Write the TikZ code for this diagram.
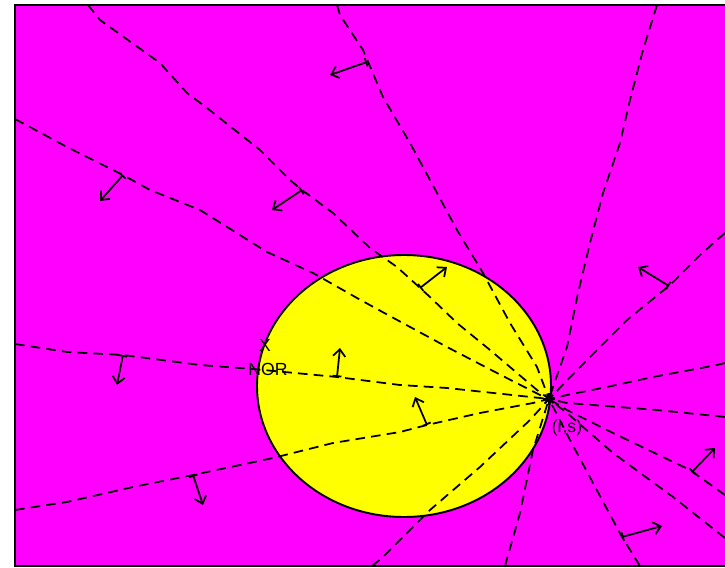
\documentclass[tikz,border=0pt]{standalone}
\usepackage{fontspec}
\setmainfont{Liberation Sans}
\usetikzlibrary{arrows.meta}
\definecolor{fieldmag}{RGB}{255,0,255}
\definecolor{diskyel}{RGB}{255,255,0}
\tikzset{
  ray/.style={line width=1pt,dash pattern=on 5.5pt off 3.5pt},
  normvec/.style={{Bar[width=5pt]}-{Straight Barb[length=4pt,width=7pt]},line width=1pt},
  lbl/.style={font=\fontsize{10}{12}\selectfont,inner sep=1pt},
}
\begin{document}
\begin{tikzpicture}[x=.02cm,y=-.02cm]
\useasboundingbox (0,0) rectangle (725,568);
\clip (0,0) rectangle (725,568);
\fill[fieldmag] (15,5) rectangle (730,566);
\filldraw[fill=diskyel,draw=black,line width=1.1pt] (404,386) ellipse (147 and 131);
\coordinate (rs) at (549,399);
% rays through (r,s)
\draw[ray] (88,5)--(100,20)--(160,63)--(187,93)--(207,108)--(260,150)--(290,180)--(302,190)--(333,213)--(370,248)--(397,267)--(430,297)--(457,323)--(490,350)--(537,390)--(rs);
\draw[ray] (15,119)--(67,147)--(123,175)--(150,190)--(200,210)--(267,252)--(313,273)--(357,298)--(388,315)--(447,347)--(497,373)--(540,395)--(rs);
\draw[ray] (337,5)--(340,15)--(363,50)--(383,97)--(410,143)--(430,180)--(457,230)--(483,273)--(510,323)--(537,367)--(rs);
\draw[ray] (657,5)--(643,50)--(630,100)--(620,143)--(603,193)--(590,243)--(578,293)--(567,347)--(553,387)--(rs);
\draw[ray] (725,233)--(700,255)--(670,285)--(627,320)--(587,360)--(rs);
\draw[ray] (725,363)--(717,365)--(653,377)--(607,387)--(567,395)--(rs);
\draw[ray] (725,417)--(657,410)--(567,403)--(rs);
\draw[ray] (725,495)--(690,470)--(613,433)--(567,410)--(rs);
\draw[ray] (725,538)--(673,497)--(613,453)--(567,413)--(rs);
\draw[ray] (640,566)--(622,537)--(593,483)--(570,440)--(rs);
\draw[ray] (505,566)--(520,513)--(533,450)--(rs);
\draw[ray] (372,566)--(383,557)--(430,510)--(480,467)--(530,420)--(rs);
\draw[ray] (15,510)--(67,502)--(133,487)--(193,475)--(273,458)--(333,443)--(400,432)--(427,425)--(480,413)--(533,403)--(rs);
\draw[ray] (15,344)--(67,352)--(123,355)--(200,365)--(253,369)--(337,377)--(400,385)--(447,388)--(540,398)--(rs);
% frame
\draw[line width=1.1pt] (730,5)--(15,5)--(15,566)--(730,566);
% normals
\draw[normvec] (302,190)--(272,210);
\draw[normvec] (420,288)--(447,267);
\draw[normvec] (123,175)--(100,201);
\draw[normvec] (367,62)--(330,75);
\draw[normvec] (669,286)--(638,267);
\draw[normvec] (692,472)--(715,448);
\draw[normvec] (622,537)--(662,526);
\draw[normvec] (193,475)--(203,505);
\draw[normvec] (427,425)--(415,397);
\draw[normvec] (123,355)--(117,385);
\draw[normvec] (337,377)--(340,348);
% point (r,s)
\foreach \a in {0,45,90,135}
  \draw[line width=1pt] (rs) ++(\a:6) -- ++(\a+180:12);
\node[lbl] (xmark) at (265,345) {X};
\node[lbl] (nor) at (268,369) {NOR};
\node[lbl] (rslbl) at (567,428) {(r,s)};
\end{tikzpicture}
\end{document}
